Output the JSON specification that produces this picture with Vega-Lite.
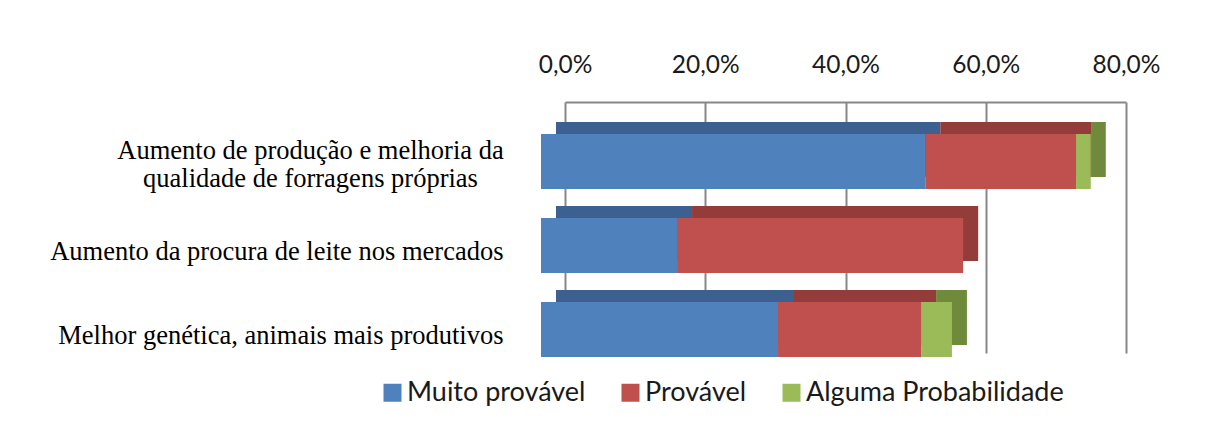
{
  "$schema": "https://vega.github.io/schema/vega-lite/v6.json",
  "width": 561,
  "height": 251,
  "autosize": {"type": "none"},
  "padding": {"left": 565, "top": 102, "right": 82, "bottom": 71},
  "background": "white",
  "config": {"view": {"stroke": null}, "font": "Lato"},
  "data": {
    "values": [
      {"fator": "Aumento de produção e melhoria da qualidade de forragens próprias", "resposta": "Muito provável", "ordem": 1, "pct": 54.8},
      {"fator": "Aumento de produção e melhoria da qualidade de forragens próprias", "resposta": "Provável", "ordem": 2, "pct": 21.5},
      {"fator": "Aumento de produção e melhoria da qualidade de forragens próprias", "resposta": "Alguma Probabilidade", "ordem": 3, "pct": 2.1},
      {"fator": "Aumento da procura de leite nos mercados", "resposta": "Muito provável", "ordem": 1, "pct": 19.4},
      {"fator": "Aumento da procura de leite nos mercados", "resposta": "Provável", "ordem": 2, "pct": 40.8},
      {"fator": "Aumento da procura de leite nos mercados", "resposta": "Alguma Probabilidade", "ordem": 3, "pct": 0},
      {"fator": "Melhor genética, animais mais produtivos", "resposta": "Muito provável", "ordem": 1, "pct": 33.8},
      {"fator": "Melhor genética, animais mais produtivos", "resposta": "Provável", "ordem": 2, "pct": 20.4},
      {"fator": "Melhor genética, animais mais produtivos", "resposta": "Alguma Probabilidade", "ordem": 3, "pct": 4.4}
    ]
  },
  "encoding": {
    "y": {
      "field": "fator",
      "type": "nominal",
      "sort": [
        "Aumento de produção e melhoria da qualidade de forragens próprias",
        "Aumento da procura de leite nos mercados",
        "Melhor genética, animais mais produtivos"
      ],
      "scale": {"paddingInner": 0.345, "paddingOuter": 0.1665},
      "axis": {
        "title": null,
        "orient": "left",
        "ticks": false,
        "domain": false,
        "grid": false,
        "labelFont": "Liberation Serif",
        "labelFontSize": 26.5,
        "labelColor": "#000000",
        "labelLimit": 700,
        "labelLineHeight": 28,
        "labelOffset": {"condition": {"test": "indexof(datum.value, 'forragens') >= 0", "value": 8}, "value": 24},
        "labelAlign": {"condition": {"test": "indexof(datum.value, 'forragens') >= 0", "value": "center"}, "value": "right"},
        "labelPadding": {"condition": {"test": "indexof(datum.value, 'forragens') >= 0", "value": 255}, "value": 62},
        "labelExpr": "indexof(datum.value, 'forragens') >= 0 ? ['Aumento de produção e melhoria da', 'qualidade de forragens próprias'] : datum.label"
      }
    },
    "x": {
      "field": "pct",
      "type": "quantitative",
      "stack": "zero",
      "scale": {"domain": [0, 80], "nice": false},
      "axis": {
        "title": null,
        "orient": "top",
        "values": [0, 20, 40, 60, 80],
        "grid": true,
        "gridColor": "#878787",
        "gridWidth": 2,
        "domain": true,
        "domainColor": "#878787",
        "domainWidth": 2,
        "ticks": false,
        "labelFont": "Lato",
        "labelFontSize": 24.5,
        "labelColor": "#1a1a1a",
        "labelPadding": 25,
        "labelFlush": false,
        "labelOverlap": false,
        "labelExpr": "replace(format(datum.value, '.1f'), '.', ',') + '%'"
      }
    },
    "order": {"field": "ordem", "type": "quantitative"}
  },
  "layer": [
    {
      "mark": {"type": "bar", "xOffset": -9, "yOffset": 6},
      "encoding": {
        "color": {
          "field": "resposta",
          "type": "nominal",
          "scale": {"domain": ["Muito provável", "Provável", "Alguma Probabilidade"], "range": ["#3C6090", "#943C3A", "#6E8A3A"]},
          "legend": null
        }
      }
    },
    {
      "mark": {"type": "bar", "xOffset": -24, "yOffset": 18},
      "encoding": {
        "color": {
          "field": "resposta",
          "type": "nominal",
          "scale": {"domain": ["Muito provável", "Provável", "Alguma Probabilidade"], "range": ["#4F81BD", "#C0504D", "#9BBB59"]},
          "legend": {
            "title": null,
            "orient": "none",
            "direction": "horizontal",
            "legendX": -186,
            "legendY": 277,
            "symbolType": "square",
            "symbolSize": 324,
            "symbolStrokeWidth": 0,
            "labelFont": "Lato",
            "labelFontSize": 27,
            "labelColor": "#1a1a1a",
            "labelOffset": 1,
            "columnPadding": 31,
            "labelLimit": 400
          }
        }
      }
    }
  ],
  "resolve": {"scale": {"color": "independent"}}
}
